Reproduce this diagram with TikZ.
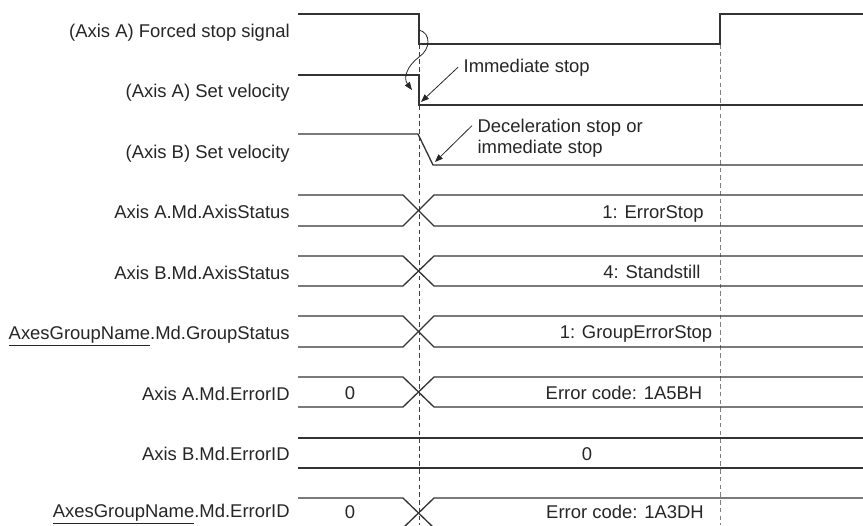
\documentclass[tikz,border=0pt]{standalone}
\usepackage{fontspec}
\setmainfont{Liberation Sans}
\usetikzlibrary{arrows.meta}
\tikzset{
  sig/.style   = {line width=0.75pt, draw=black!80},
  guide/.style = {line width=0.55pt, draw=black!75, dash pattern=on 2.6pt off 1.8pt},
  lbl/.style   = {anchor=base east, inner sep=0pt, font=\fontsize{10.5}{12}\selectfont, text=black!85},
  val/.style   = {anchor=base, inner sep=0pt, font=\fontsize{10.5}{12}\selectfont, text=black!85},
  note/.style  = {inner xsep=3pt, inner ysep=0pt, font=\fontsize{10.5}{11.9}\selectfont, text=black!85, align=left},
  ann/.style   = {line width=0.45pt, draw=black!85, -{Triangle[length=4.5pt, width=3.4pt]}}
}

\begin{document}
\begin{tikzpicture}[x=0.02cm, y=-0.02cm]

  \useasboundingbox (0,0) rectangle (863,525);
  \clip (0,0) rectangle (863,525);

  % signal names (left)
  \node[lbl] (nfs) at (290,37)  {(Axis A) Forced stop signal};
  \node[lbl] (nva) at (290,97)  {(Axis A) Set velocity};
  \node[lbl] (nvb) at (290,158) {(Axis B) Set velocity};
  \node[lbl] (nsa) at (290,218) {Axis A.Md.AxisStatus};
  \node[lbl] (nsb) at (290,279) {Axis B.Md.AxisStatus};
  \node[lbl] (ngs) at (290,339) {\underline{AxesGroupName}.Md.GroupStatus};
  \node[lbl] (nea) at (290,400) {Axis A.Md.ErrorID};
  \node[lbl] (neb) at (290,460) {Axis B.Md.ErrorID};
  \node[lbl] (nge) at (290,517) {\underline{AxesGroupName}.Md.ErrorID};

  % ---------------- GUIDES ----------------
  \draw[guide] (419,44) -- (419,525);
  \draw[guide, draw=black!50] (720,44) -- (720,525);

  % ---------------- BIT SIGNALS ----------------
  \draw[sig] (298,14) -- (419,14) -- (419,44) -- (720,44) -- (720,14) -- (863,14);
  \draw[sig] (298,75) -- (419,75) -- (419,105) -- (863,105);
  \draw[sig] (298,134) -- (418,134) -- (433,165) -- (863,165);

  % ---------------- STATUS / ERROR BUSES ----------------
  \draw[sig] (298,195) -- (403,195) -- (434,226) -- (863,226); \draw[sig] (298,226) -- (403,226) -- (434,195) -- (863,195);
  \draw[sig] (298,256) -- (403,256) -- (434,286) -- (863,286); \draw[sig] (298,286) -- (403,286) -- (434,256) -- (863,256);
  \draw[sig] (298,316) -- (403,316) -- (434,347) -- (863,347); \draw[sig] (298,347) -- (403,347) -- (434,316) -- (863,316);
  \draw[sig] (298,377) -- (403,377) -- (434,407) -- (863,407); \draw[sig] (298,407) -- (403,407) -- (434,377) -- (863,377);
  \draw[sig] (298,438) -- (863,438);                            \draw[sig] (298,468) -- (863,468);
  \draw[sig] (298,498) -- (403,498) -- (434,528) -- (863,528); \draw[sig] (298,528) -- (403,528) -- (434,498) -- (863,498);

  % bus values
  \node[val] (vsa)  at (653,218) {1: ErrorStop};
  \node[val] (vsb)  at (652,278) {4: Standstill};
  \node[val] (vgs)  at (636,338) {1: GroupErrorStop};
  \node[val] (vea0) at (350,399) {0};
  \node[val] (vea)  at (624,399) {Error code: 1A5BH};
  \node[val] (veb)  at (587,460) {0};
  \node[val] (vge0) at (350,518) {0};
  \node[val] (vge)  at (625,518) {Error code: 1A3DH};

  % ---------------- ANNOTATIONS ----------------
  \node[note, anchor=base west] (imm) at (458,72) {Immediate stop};
  \node[note, anchor=west] (dec) at (472,138) {Deceleration stop or\\immediate stop};

  \coordinate (fsfall) at (419,30);
  \coordinate (vatip)  at (412,90);
  \coordinate (imtip)  at (421,102);
  \coordinate (vbtip)  at (435,162);

  \draw[ann] (fsfall) .. controls (431,33) and (431,49) .. (419,57) .. controls (407,66) and (403,78) .. (vatip);
  \draw[ann] (imm.west) -- (imtip);
  \draw[ann] (dec.172) -- (vbtip);

\end{tikzpicture}
\end{document}
